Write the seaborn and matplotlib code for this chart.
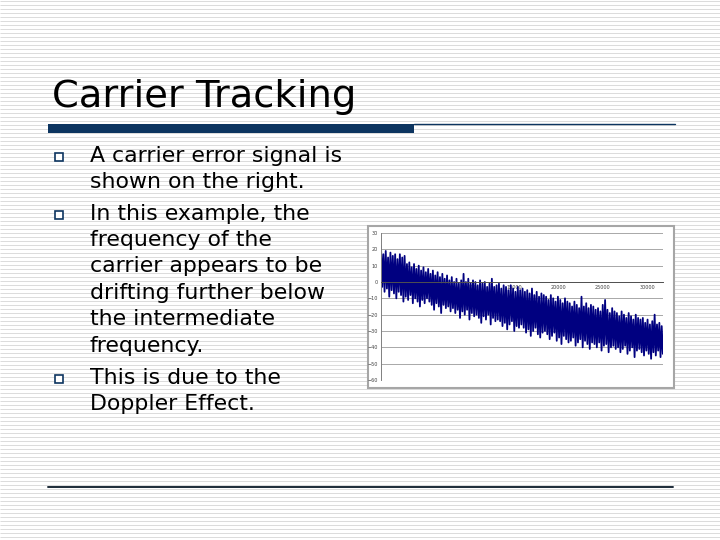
import numpy as np
import pandas as pd
import matplotlib
matplotlib.use("Agg")
import matplotlib.pyplot as plt
from matplotlib.patches import Rectangle
import seaborn as sns

# slide text
title = "Carrier Tracking"
text_lines = [
    "A carrier error signal is",
    "shown on the right.",
    "In this example, the",
    "frequency of the",
    "carrier appears to be",
    "drifting further below",
    "the intermediate",
    "frequency.",
    "This is due to the",
    "Doppler Effect.",
]
bullet_rows = [0, 2, 8]

# carrier error signal: peak and trough of each swing
upper_peaks = [
    22, 17, 19, 15, 18, 16, 17, 14, 17, 15,
    16, 11, 12, 9, 11, 8, 10, 7, 9, 6,
    8, 5, 7, 4, 6, 3, 5, 2, 4, 1,
    3, 0, 2, -1, 1, 5, 0, 2, -1, 1,
    0, -2, 1, -1, 0, -3, -1, 2, -3, -2,
    -1, -4, -2, -3, -5, -2, -4, -6, -3, -5,
    -4, -6, -5, -7, -4, -8, -6, -9, -7, -8,
    -9, -11, -8, -10, -12, -9, -11, -13, -10, -12,
    -13, -15, -12, -14, -16, -9, -15, -13, -16, -14,
    -15, -17, -16, -18, -14, -11, -17, -19, -16, -18,
    -19, -21, -18, -20, -22, -19, -21, -23, -20, -22,
    -23, -22, -25, -23, -26, -24, -20, -26, -25, -27,
]
lower_troughs = [
    -3, -6, -4, -9, -5, -7, -10, -6, -8, -12,
    -9, -11, -8, -13, -10, -12, -15, -11, -13, -10,
    -12, -14, -17, -13, -15, -19, -14, -16, -15, -18,
    -16, -19, -17, -22, -18, -20, -17, -23, -19, -21,
    -20, -22, -25, -21, -23, -20, -26, -22, -24, -23,
    -24, -27, -25, -29, -26, -24, -30, -27, -28, -26,
    -28, -31, -29, -33, -30, -28, -32, -34, -31, -30,
    -32, -35, -33, -31, -36, -34, -38, -33, -35, -37,
    -36, -34, -39, -37, -35, -40, -36, -38, -41, -37,
    -38, -40, -37, -42, -39, -38, -43, -40, -39, -41,
    -40, -43, -41, -39, -44, -42, -40, -46, -42, -41,
    -43, -45, -42, -44, -47, -43, -45, -42, -46, -44,
]
sample_spacing = 133
y_ticks = [-60, -50, -40, -30, -20, -10, 0, 10, 20, 30]
x_ticks = [5000, 10000, 15000, 20000, 25000, 30000]

navy = "#0d3560"

sns.set_style("white")
plt.rcParams["font.family"] = ["DejaVu Sans"]

fig = plt.figure(figsize=(7.2, 5.4), dpi=100)

# slide background in pixel coordinates
bg = fig.add_axes([0, 0, 1, 1])
bg.set_xlim(0, 720)
bg.set_ylim(540, 0)
bg.axis("off")
bg.hlines(np.arange(0.5, 540, 4), 0, 720, color="#dcdcdc", lw=0.72, zorder=1)

bg.text(52, 107, title, fontsize=27.7, va="baseline", color="black", zorder=5)
bg.add_patch(Rectangle((48, 123.5), 366, 9, color=navy, lw=0, zorder=4))
bg.plot([414, 675], [124, 124], color=navy, lw=1, zorder=4)
bg.plot([48, 673], [487, 487], color="#1c2b38", lw=1.4, zorder=4)

baselines = [162, 188, 220, 246, 272, 299, 325, 352, 384, 410]
for i, line in enumerate(text_lines):
    bg.text(90, baselines[i], line, fontsize=15.8, va="baseline", color="black", zorder=5)
    if i in bullet_rows:
        bg.add_patch(Rectangle((54.5, baselines[i] - 9.5), 8, 8, facecolor="white",
                               edgecolor=navy, lw=1.2, zorder=4))

# chart frame
bg.add_patch(Rectangle((367.5, 225.5), 306, 162, facecolor="white",
                       edgecolor="#a6a6a6", lw=1.5, zorder=4))

# the chart itself
ax = fig.add_axes([381 / 720, 1 - 380 / 540, 282 / 720, 147 / 540])
ax.patch.set_alpha(0)
values = np.column_stack([upper_peaks, lower_troughs]).ravel()
df = pd.DataFrame({"sample": np.arange(len(values)) * sample_spacing, "error": values})
sns.lineplot(data=df, x="sample", y="error", ax=ax, color="#000080", linewidth=1.3,
             estimator=None, sort=False)

ax.set_xlim(0, 31800)
ax.set_ylim(-60, 30)
ax.set_yticks(y_ticks)
ax.set_xticks(x_ticks)
ax.set_xlabel("")
ax.set_ylabel("")
ax.yaxis.grid(True, color="#9a9a9a", lw=0.6)
ax.set_axisbelow(True)
for s in ["top", "right"]:
    ax.spines[s].set_visible(False)
ax.spines["left"].set_color("#808080")
ax.spines["left"].set_linewidth(0.7)
ax.spines["bottom"].set_position(("data", 0))
ax.spines["bottom"].set_color("#505050")
ax.spines["bottom"].set_linewidth(0.7)
ax.spines["bottom"].set_zorder(3)
ax.tick_params(axis="both", labelsize=3.5, length=1.5, width=0.5, pad=1,
               colors="#404040")
ax.tick_params(axis="x", direction="out")

fig.savefig("out.png", dpi=100)
